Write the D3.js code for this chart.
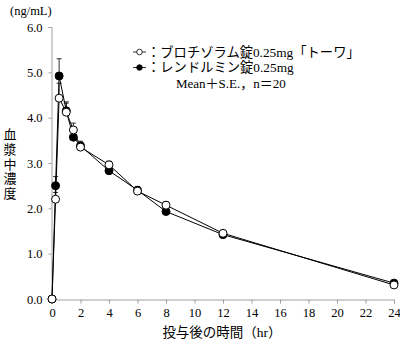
<!DOCTYPE html>
<html><head><meta charset="utf-8">
<script src="https://cdn.jsdelivr.net/npm/d3@7"></script>
<style>body{margin:0;background:#fff}svg{display:block}text{font-family:"Liberation Serif","Noto Sans CJK JP",serif;fill:#000}</style>
</head><body><svg id="c" width="400" height="345"></svg>
<script>
const times = [0, 0.25, 0.5, 1, 1.5, 2, 4, 6, 8, 12, 24];
const openMean = [0, 2.2, 4.43, 4.12, 3.73, 3.35, 2.96, 2.38, 2.07, 1.45, 0.31];
const openSE   = [0, 0.15, 0.33, 0.2, 0.15, 0.1, 0.08, 0.08, 0.08, 0.06, 0.03];
const filledMean = [0, 2.5, 4.92, 4.15, 3.57, 3.38, 2.83, 2.4, 1.93, 1.42, 0.35];
const filledSE   = [0, 0.2, 0.38, 0.2, 0.12, 0.1, 0.08, 0.08, 0.08, 0.06, 0.03];
const yTicks = [0, 1, 2, 3, 4, 5, 6];
const xTicks = [0, 2, 4, 6, 8, 10, 12, 14, 16, 18, 20, 22, 24];
const legendLabels = ["：ブロチゾラム錠0.25mg「トーワ」", "：レンドルミン錠0.25mg"];
const noteLabel = "Mean＋S.E.，n＝20";

const svg = d3.select("#c");
const x = d3.scaleLinear().domain([0, 24]).range([52, 394]);
const y = d3.scaleLinear().domain([0, 6]).range([299, 27]);
const axisColor = "#a0a0a0";

// Y axis
const ya = svg.append("g").attr("transform", "translate(51.5,0)")
  .call(d3.axisLeft(y).tickValues(yTicks).tickFormat(d3.format(".1f")).tickSize(3).tickPadding(6));
ya.select(".domain").attr("stroke", axisColor);
ya.selectAll(".tick line").attr("stroke", axisColor);
ya.selectAll(".tick text").style("font-size", "12.5px").attr("font-family", null);

// X axis
const xa = svg.append("g").attr("transform", "translate(0,299.5)")
  .call(d3.axisBottom(x).tickValues(xTicks).tickSize(4).tickPadding(5));
xa.select(".domain").attr("stroke", axisColor);
xa.selectAll(".tick line").attr("stroke", axisColor);
xa.selectAll(".tick text").style("font-size", "12.5px").attr("font-family", null);

// Titles
svg.append("text").attr("x", 10).attr("y", 15).style("font-size", "12.5px").text("(ng/mL)");
const yl = ["血", "漿", "中", "濃", "度"];
svg.append("g").selectAll("text").data(yl).join("text")
  .attr("x", 10).attr("y", (d, i) => 139 + i * 14.8).attr("text-anchor", "middle")
  .style("font-size", "13px").text(d => d);
svg.append("text").attr("x", 222).attr("y", 337).attr("text-anchor", "middle")
  .style("font-size", "13.5px").text("投与後の時間（hr）");

function series(mean, se, filled) {
  const g = svg.append("g");
  const pts = times.map((t, i) => ({t, m: mean[i], s: se[i]}));
  const eb = g.selectAll("g.eb").data(pts.filter(d => d.s > 0)).join("g");
  eb.append("line").attr("x1", d => x(d.t)).attr("x2", d => x(d.t))
    .attr("y1", d => y(d.m)).attr("y2", d => y(d.m + d.s)).attr("stroke", "#000").attr("stroke-width", 0.8);
  eb.append("line").attr("x1", d => x(d.t) - 2.5).attr("x2", d => x(d.t) + 2.5)
    .attr("y1", d => y(d.m + d.s)).attr("y2", d => y(d.m + d.s)).attr("stroke", "#000").attr("stroke-width", 0.8);
  g.append("path").datum(pts).attr("fill", "none").attr("stroke", "#000").attr("stroke-width", 1)
    .attr("d", d3.line().x(d => x(d.t)).y(d => y(d.m)));
  g.selectAll("circle").data(pts).join("circle")
    .attr("cx", d => x(d.t)).attr("cy", d => y(d.m)).attr("r", 4)
    .attr("fill", filled ? "#000" : "#fff").attr("stroke", "#000").attr("stroke-width", 1);
}
series(filledMean, filledSE, true);
series(openMean, openSE, false);

// Legend
const lg = svg.append("g");
[0, 1].forEach(i => {
  const yy = 52 + i * 15.5;
  lg.append("line").attr("x1", 133).attr("x2", 146).attr("y1", yy).attr("y2", yy).attr("stroke", "#000").attr("stroke-width", 0.8);
  lg.append("circle").attr("cx", 139.5).attr("cy", yy).attr("r", 2.8)
    .attr("fill", i === 0 ? "#fff" : "#000").attr("stroke", "#000").attr("stroke-width", 0.8);
  lg.append("text").attr("x", 147).attr("y", yy + 4.8).style("font-size", "13.3px").text(legendLabels[i]);
});
lg.append("text").attr("x", 176).attr("y", 88).style("font-size", "13px").text(noteLabel);
</script></body></html>
